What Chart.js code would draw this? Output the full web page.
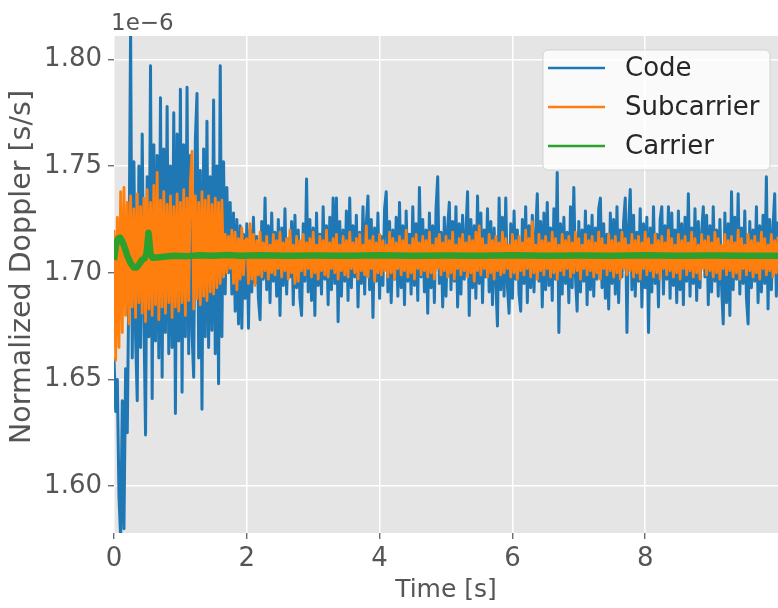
<!DOCTYPE html>
<html>
<head>
<meta charset="utf-8">
<script src="https://cdn.jsdelivr.net/npm/chart.js@4/dist/chart.umd.min.js"></script>
<style>
  html, body { margin: 0; padding: 0; background: #fff; }
  #wrap { width: 778px; height: 608px; }
</style>
</head>
<body>
<div id="wrap"><canvas id="chart"></canvas></div>
<script>
// Time base (s) for Code and Subcarrier samples
const timeStep = 0.025;

// Normalized Doppler, units of 1e-6 s/s
const codeValues = [
  1.660, 1.635, 1.650, 1.595, 1.576, 1.640, 1.580, 1.655, 1.625, 1.700,
  1.815, 1.660, 1.752, 1.670, 1.640, 1.750, 1.665, 1.765, 1.680, 1.624,
  1.745, 1.670, 1.797, 1.641, 1.760, 1.668, 1.755, 1.660, 1.782, 1.651,
  1.758, 1.672, 1.778, 1.662, 1.750, 1.665, 1.775, 1.634, 1.765, 1.668,
  1.786, 1.644, 1.760, 1.670, 1.787, 1.662, 1.755, 1.672, 1.651, 1.762,
  1.784, 1.660, 1.748, 1.636, 1.758, 1.670, 1.771, 1.665, 1.745, 1.673,
  1.781, 1.662, 1.750, 1.648, 1.797, 1.670, 1.752, 1.690, 1.740, 1.700,
  1.733, 1.690, 1.728, 1.682, 1.725, 1.676, 1.722, 1.674, 1.718, 1.688,
  1.723, 1.674, 1.720, 1.691, 1.726, 1.695, 1.717, 1.688, 1.678, 1.724,
  1.697, 1.735, 1.692, 1.722, 1.686, 1.728, 1.696, 1.719, 1.689, 1.725,
  1.680, 1.721, 1.694, 1.730, 1.690, 1.716, 1.698, 1.724, 1.685, 1.727,
  1.693, 1.720, 1.688, 1.680, 1.723, 1.696, 1.744, 1.691, 1.725, 1.687,
  1.721, 1.680, 1.728, 1.694, 1.718, 1.690, 1.731, 1.697, 1.722, 1.685,
  1.726, 1.692, 1.735, 1.695, 1.735, 1.677, 1.724, 1.689, 1.720, 1.696,
  1.729, 1.687, 1.735, 1.693, 1.722, 1.698, 1.727, 1.684, 1.719, 1.695,
  1.731, 1.690, 1.723, 1.736, 1.692, 1.725, 1.679, 1.721, 1.696, 1.728,
  1.688, 1.717, 1.694, 1.730, 1.738, 1.691, 1.724, 1.686, 1.720, 1.697,
  1.726, 1.689, 1.733, 1.693, 1.722, 1.685, 1.729, 1.696, 1.718, 1.690,
  1.731, 1.694, 1.723, 1.687, 1.740, 1.698, 1.725, 1.691, 1.720, 1.681,
  1.728, 1.693, 1.722, 1.686, 1.730, 1.745, 1.695, 1.719, 1.684, 1.726,
  1.689, 1.721, 1.733, 1.692, 1.724, 1.696, 1.731, 1.684, 1.723, 1.690,
  1.727, 1.697, 1.719, 1.738, 1.680, 1.725, 1.693, 1.722, 1.688, 1.736,
  1.695, 1.728, 1.686, 1.720, 1.698, 1.730, 1.691, 1.724, 1.685, 1.721,
  1.696, 1.675, 1.735, 1.692, 1.726, 1.689, 1.735, 1.694, 1.681, 1.723,
  1.688, 1.729, 1.697, 1.720, 1.690, 1.682, 1.725, 1.695, 1.731, 1.686,
  1.722, 1.693, 1.727, 1.691, 1.718, 1.737, 1.696, 1.724, 1.684, 1.728,
  1.692, 1.733, 1.694, 1.721, 1.687, 1.730, 1.697, 1.747, 1.672, 1.723,
  1.690, 1.726, 1.695, 1.719, 1.686, 1.731, 1.693, 1.740, 1.698, 1.682,
  1.724, 1.691, 1.720, 1.696, 1.729, 1.685, 1.722, 1.692, 1.727, 1.689,
  1.721, 1.697, 1.730, 1.735, 1.693, 1.723, 1.688, 1.718, 1.683, 1.728,
  1.695, 1.725, 1.690, 1.731, 1.686, 1.720, 1.698, 1.724, 1.735, 1.672,
  1.722, 1.739, 1.692, 1.727, 1.689, 1.719, 1.696, 1.730, 1.684, 1.723,
  1.693, 1.726, 1.672, 1.721, 1.691, 1.731, 1.695, 1.718, 1.684, 1.725,
  1.731, 1.690, 1.722, 1.697, 1.731, 1.688, 1.728, 1.694, 1.720, 1.686,
  1.729, 1.692, 1.723, 1.685, 1.726, 1.696, 1.737, 1.689, 1.721, 1.695,
  1.730, 1.687, 1.724, 1.693, 1.719, 1.731, 1.698, 1.727, 1.685, 1.722,
  1.691, 1.731, 1.696, 1.720, 1.689, 1.725, 1.694, 1.676, 1.728, 1.686,
  1.723, 1.680, 1.738, 1.692, 1.726, 1.697, 1.737, 1.690, 1.721, 1.695,
  1.729, 1.688, 1.676, 1.724, 1.693, 1.720, 1.696, 1.731, 1.686, 1.722,
  1.691, 1.727, 1.695, 1.745, 1.683, 1.725, 1.692, 1.721, 1.737, 1.689,
  1.724
];

const subcarrierValues = [
  1.720, 1.659, 1.726, 1.665, 1.738, 1.672, 1.740, 1.680, 1.733, 1.676,
  1.736, 1.684, 1.730, 1.679, 1.737, 1.686, 1.731, 1.681, 1.735, 1.677,
  1.739, 1.683, 1.733, 1.680, 1.741, 1.685, 1.747, 1.678, 1.734, 1.684,
  1.738, 1.681, 1.732, 1.686, 1.736, 1.679, 1.731, 1.684, 1.737, 1.682,
  1.733, 1.686, 1.739, 1.680, 1.735, 1.687, 1.742, 1.757, 1.683, 1.736,
  1.688, 1.733, 1.685, 1.738, 1.689, 1.734, 1.687, 1.736, 1.691, 1.732,
  1.690, 1.735, 1.693, 1.733, 1.695, 1.734, 1.698, 1.718, 1.700, 1.717,
  1.702, 1.720, 1.695, 1.719, 1.692, 1.716, 1.697, 1.721, 1.699, 1.715,
  1.716, 1.695, 1.723, 1.697, 1.718, 1.694, 1.715, 1.699, 1.719, 1.698,
  1.714, 1.701, 1.717, 1.697, 1.713, 1.700, 1.718, 1.699, 1.715, 1.702,
  1.719, 1.698, 1.714, 1.701, 1.716, 1.697, 1.720, 1.700, 1.713, 1.695,
  1.717, 1.696, 1.715, 1.701, 1.718, 1.699, 1.714, 1.702, 1.716, 1.698,
  1.719, 1.700, 1.713, 1.697, 1.717, 1.701, 1.715, 1.699, 1.720, 1.698,
  1.714, 1.702, 1.716, 1.700, 1.718, 1.697, 1.713, 1.701, 1.717, 1.699,
  1.715, 1.698, 1.719, 1.702, 1.714, 1.700, 1.716, 1.697, 1.718, 1.701,
  1.713, 1.699, 1.722, 1.698, 1.715, 1.702, 1.717, 1.696, 1.714, 1.700,
  1.718, 1.699, 1.715, 1.701, 1.713, 1.698, 1.719, 1.700, 1.716, 1.697,
  1.714, 1.702, 1.717, 1.699, 1.715, 1.701, 1.720, 1.698, 1.713, 1.700,
  1.716, 1.697, 1.718, 1.702, 1.714, 1.699, 1.717, 1.701, 1.715, 1.698,
  1.719, 1.700, 1.713, 1.697, 1.716, 1.702, 1.718, 1.699, 1.714, 1.701,
  1.717, 1.698, 1.715, 1.700, 1.719, 1.697, 1.713, 1.702, 1.716, 1.699,
  1.718, 1.701, 1.714, 1.698, 1.717, 1.700, 1.715, 1.696, 1.719, 1.701,
  1.722, 1.699, 1.716, 1.702, 1.713, 1.698, 1.718, 1.700, 1.715, 1.697,
  1.717, 1.701, 1.714, 1.699, 1.719, 1.700, 1.716, 1.702, 1.713, 1.698,
  1.718, 1.700, 1.715, 1.697, 1.717, 1.701, 1.714, 1.699, 1.720, 1.702,
  1.716, 1.698, 1.724, 1.700, 1.713, 1.697, 1.718, 1.701, 1.715, 1.699,
  1.717, 1.702, 1.714, 1.698, 1.719, 1.700, 1.716, 1.697, 1.713, 1.701,
  1.718, 1.699, 1.715, 1.702, 1.717, 1.698, 1.714, 1.700, 1.719, 1.701,
  1.716, 1.697, 1.713, 1.702, 1.718, 1.699, 1.715, 1.701, 1.717, 1.698,
  1.714, 1.700, 1.719, 1.697, 1.716, 1.702, 1.713, 1.699, 1.718, 1.701,
  1.715, 1.698, 1.717, 1.700, 1.714, 1.697, 1.719, 1.702, 1.716, 1.699,
  1.713, 1.701, 1.718, 1.698, 1.715, 1.700, 1.717, 1.697, 1.714, 1.702,
  1.719, 1.699, 1.716, 1.701, 1.713, 1.698, 1.718, 1.700, 1.715, 1.697,
  1.717, 1.702, 1.714, 1.699, 1.720, 1.701, 1.716, 1.698, 1.713, 1.700,
  1.718, 1.697, 1.715, 1.702, 1.717, 1.699, 1.714, 1.701, 1.719, 1.698,
  1.716, 1.700, 1.713, 1.697, 1.718, 1.702, 1.715, 1.699, 1.717, 1.701,
  1.714, 1.698, 1.719, 1.700, 1.716, 1.697, 1.713, 1.702, 1.718, 1.699,
  1.715, 1.701, 1.717, 1.698, 1.714, 1.700, 1.720, 1.697, 1.716, 1.702,
  1.713, 1.699, 1.718, 1.701, 1.715, 1.698, 1.717, 1.700, 1.714, 1.697,
  1.719, 1.702, 1.716, 1.699, 1.713, 1.701, 1.718, 1.698, 1.715, 1.700,
  1.717
];

// Carrier has its own (sparser) time samples
const carrierTime = [
  0, 0.03, 0.06, 0.09, 0.12, 0.16, 0.2, 0.25, 0.3, 0.34, 0.38, 0.42, 0.46,
  0.49, 0.52, 0.55, 0.58, 0.65, 0.75, 0.9, 1.1, 1.3, 1.5, 1.7, 1.9, 2.2,
  2.6, 3.0, 3.5, 4.0, 4.5, 5.0, 5.5, 6.0, 6.5, 7.0, 7.5, 8.0, 8.5, 9.0,
  9.5, 10.0
];
const carrierValues = [
  1.706, 1.713, 1.716, 1.7165, 1.715, 1.712, 1.708, 1.7045, 1.7025, 1.7025,
  1.704, 1.706, 1.7066, 1.709, 1.7188, 1.709, 1.707, 1.7072, 1.7075, 1.708,
  1.7078, 1.7082, 1.708, 1.7083, 1.708, 1.7082, 1.708, 1.7081, 1.708, 1.7082,
  1.708, 1.7081, 1.708, 1.7082, 1.708, 1.7081, 1.708, 1.7082, 1.708, 1.7081,
  1.708, 1.708
];

const seriesLabels = ['Code', 'Subcarrier', 'Carrier'];
const seriesColors = ['#1f77b4', '#ff7f0e', '#2ca02c'];

const xTicks = [0, 2, 4, 6, 8];
const yTicks = [1.60, 1.65, 1.70, 1.75, 1.80];

const FONT = '"DejaVu Sans", sans-serif';

function toPoints(values) {
  return values.map((v, i) => ({ x: i * timeStep, y: v }));
}

// gray panel, legend, axis labels and offset text
const panelPlugin = {
  id: 'panel',
  beforeDraw(chart) {
    const { ctx, chartArea: a } = chart;
    ctx.save();
    ctx.fillStyle = '#ffffff';
    ctx.fillRect(0, 0, chart.width, chart.height);
    ctx.fillStyle = '#e5e5e5';
    ctx.fillRect(a.left, a.top, a.right - a.left, a.bottom - a.top);
    ctx.restore();
  },
  afterDraw(chart) {
    const { ctx, chartArea: a } = chart;
    ctx.save();

    // offset text
    ctx.fillStyle = '#555555';
    ctx.font = '23px ' + FONT;
    ctx.textAlign = 'left';
    ctx.textBaseline = 'alphabetic';
    ctx.fillText('1e\u22126', 111, 30);

    // x title
    ctx.font = '25px ' + FONT;
    ctx.textAlign = 'center';
    ctx.textBaseline = 'middle';
    ctx.fillText('Time [s]', (a.left + a.right) / 2, 590);

    // y title
    ctx.save();
    ctx.translate(23, 267);
    ctx.rotate(-Math.PI / 2);
    ctx.font = '28.5px ' + FONT;
    ctx.fillText('Normalized Doppler [s/s]', 0, 0);
    ctx.restore();

    // legend
    const bx = 543, by = 50, bw = 227, bh = 120, r = 5;
    ctx.beginPath();
    ctx.moveTo(bx + r, by);
    ctx.arcTo(bx + bw, by, bx + bw, by + bh, r);
    ctx.arcTo(bx + bw, by + bh, bx, by + bh, r);
    ctx.arcTo(bx, by + bh, bx, by, r);
    ctx.arcTo(bx, by, bx + bw, by, r);
    ctx.closePath();
    ctx.fillStyle = 'rgba(255,255,255,0.8)';
    ctx.fill();
    ctx.strokeStyle = 'rgba(204,204,204,0.8)';
    ctx.lineWidth = 1;
    ctx.stroke();

    const rows = [68, 107, 146];
    ctx.font = '26px ' + FONT;
    ctx.textAlign = 'left';
    ctx.textBaseline = 'middle';
    chart.data.datasets.forEach((ds, i) => {
      ctx.strokeStyle = ds.borderColor;
      ctx.lineWidth = 2.5;
      ctx.beginPath();
      ctx.moveTo(548, rows[i]);
      ctx.lineTo(605, rows[i]);
      ctx.stroke();
      ctx.fillStyle = '#262626';
      ctx.fillText(ds.label, 625, rows[i] + 1);
    });

    ctx.restore();
  }
};

new Chart(document.getElementById('chart'), {
  type: 'line',
  data: {
    datasets: [
      {
        label: seriesLabels[0],
        data: toPoints(codeValues),
        borderColor: seriesColors[0],
        borderWidth: 3,
        order: 3
      },
      {
        label: seriesLabels[1],
        data: toPoints(subcarrierValues),
        borderColor: seriesColors[1],
        borderWidth: 2.8,
        order: 2
      },
      {
        label: seriesLabels[2],
        data: carrierTime.map((t, i) => ({ x: t, y: carrierValues[i] })),
        borderColor: seriesColors[2],
        borderWidth: 6.5,
        order: 1
      }
    ]
  },
  options: {
    responsive: true,
    maintainAspectRatio: false,
    animation: false,
    devicePixelRatio: 1,
    layout: { padding: { top: 36, right: 0, left: 0, bottom: 0 } },
    elements: {
      point: { radius: 0 },
      line: { tension: 0, borderJoinStyle: 'round' }
    },
    datasets: { line: { clip: 0 } },
    plugins: {
      legend: { display: false },
      tooltip: { enabled: false }
    },
    scales: {
      x: {
        type: 'linear',
        min: 0,
        max: 10,
        afterBuildTicks: (scale) => { scale.ticks = xTicks.map(v => ({ value: v })); },
        afterFit: (scale) => { scale.height = 75; },
        border: { display: false },
        grid: {
          color: '#ffffff',
          lineWidth: 1.5,
          tickColor: '#555555',
          tickWidth: 1.2,
          tickLength: 6
        },
        ticks: {
          color: '#555555',
          font: { family: FONT, size: 26 },
          padding: 5,
          maxRotation: 0,
          callback: (v) => String(v)
        }
      },
      y: {
        type: 'linear',
        min: 1.578,
        max: 1.811,
        afterBuildTicks: (scale) => { scale.ticks = yTicks.map(v => ({ value: v })); },
        afterFit: (scale) => { scale.width = 114; },
        border: { display: false },
        grid: {
          color: '#ffffff',
          lineWidth: 1.5,
          tickColor: '#555555',
          tickWidth: 1.2,
          tickLength: 6
        },
        ticks: {
          color: '#555555',
          font: { family: FONT, size: 26 },
          padding: 6,
          callback: (v) => v.toFixed(2)
        }
      }
    }
  },
  plugins: [panelPlugin]
});
</script>
</body>
</html>
